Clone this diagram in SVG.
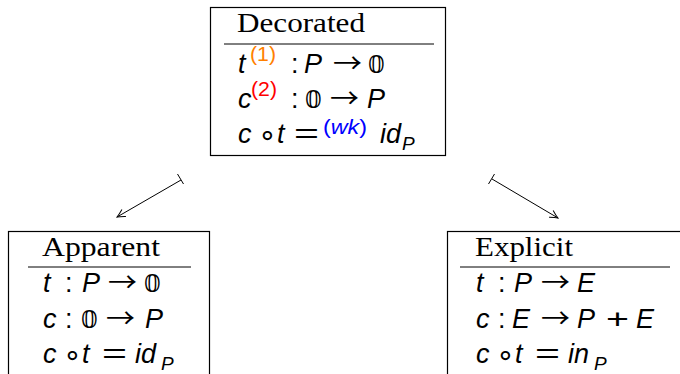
<svg xmlns="http://www.w3.org/2000/svg" width="680" height="374" viewBox="0 0 680 374">
<style>
.box{fill:#fff;stroke:#000;stroke-width:1.2}
.sep{stroke:#000;stroke-width:1}
.hd{font-family:"Liberation Serif","DejaVu Serif",serif;font-size:28px;fill:#000}
.m{font-family:"Liberation Sans","DejaVu Sans",sans-serif;font-size:27px;fill:#000}
.i{font-style:italic}
.sub{font-family:"Liberation Sans","DejaVu Sans",sans-serif;font-size:19px;font-style:italic;fill:#000}
.eq{font-family:"Liberation Sans","DejaVu Sans",sans-serif;font-size:27px;fill:#000}
.ar{font-family:"Noto Sans CJK SC","DejaVu Sans",sans-serif;font-size:27px;fill:#000}
.z{font-family:"DejaVu Serif",serif;font-size:24px;fill:#000}
.o{font-family:"DejaVu Sans",sans-serif;font-size:30px;font-style:normal;fill:#000}
.sup{font-family:"Liberation Sans",sans-serif;font-size:21px}
.conn{stroke:#000;stroke-width:1;fill:none}
</style>
<defs>
<marker id="ah" viewBox="0 0 10 10" refX="9" refY="5" markerWidth="10" markerHeight="10" markerUnits="userSpaceOnUse" orient="auto">
<path d="M1,1 Q6,4 9,5 Q6,6 1,9" fill="none" stroke="#000" stroke-width="1"/>
</marker>
</defs>
<g id="connectors">
<line class="conn" x1="181" y1="180" x2="117" y2="217" marker-end="url(#ah)"/>
<line class="conn" x1="177.5" y1="174" x2="183.5" y2="184"/>
<line class="conn" x1="492" y1="179" x2="558" y2="218" marker-end="url(#ah)"/>
<line class="conn" x1="488.5" y1="184" x2="494.5" y2="174"/>
</g>
<g id="decorated">
<rect class="box" x="210.5" y="7.5" width="235" height="148"/>
<line class="sep" x1="224" y1="44" x2="434" y2="44"/>
<text class="hd" x="237" y="32" textLength="128" lengthAdjust="spacingAndGlyphs">Decorated</text>
<text class="m i" x="238" y="73">t</text>
<text class="sup" x="250" y="61" fill="#ff8000" textLength="26" lengthAdjust="spacingAndGlyphs">(1)</text>
<text class="m" x="291" y="73">:</text>
<text class="m i" x="304" y="73">P</text>
<text class="ar" x="333" y="73" textLength="29" lengthAdjust="spacingAndGlyphs">→</text>
<text class="z" x="368" y="73">𝟘</text>
<text class="m i" x="238" y="108">c</text>
<text class="sup" x="251" y="96" fill="#ff0000" textLength="26" lengthAdjust="spacingAndGlyphs">(2)</text>
<text class="m" x="291" y="108">:</text>
<text class="z" x="305" y="108">𝟘</text>
<text class="ar" x="330" y="108" textLength="29" lengthAdjust="spacingAndGlyphs">→</text>
<text class="m i" x="367" y="108">P</text>
<text class="m i" x="238" y="143">c</text>
<text class="o" x="258" y="145">∘</text>
<text class="m i" x="277" y="143">t</text>
<text class="eq" x="294" y="143" textLength="25" lengthAdjust="spacingAndGlyphs">=</text>
<text class="sup" x="323" y="134" fill="#0000ff" textLength="44" lengthAdjust="spacingAndGlyphs">(<tspan class="i">wk</tspan>)</text>
<text class="m i" x="380" y="143">id</text>
<text class="sub" x="402" y="150">P</text>
</g>
<g id="apparent">
<rect class="box" x="8.5" y="231.5" width="201" height="150"/>
<line class="sep" x1="28" y1="267" x2="191" y2="267"/>
<text class="hd" x="42" y="256" textLength="118" lengthAdjust="spacingAndGlyphs">Apparent</text>
<text class="m i" x="43" y="292">t</text>
<text class="m" x="65" y="292">:</text>
<text class="m i" x="82" y="292">P</text>
<text class="ar" x="108" y="292" textLength="29" lengthAdjust="spacingAndGlyphs">→</text>
<text class="z" x="144" y="292">𝟘</text>
<text class="m i" x="43" y="328">c</text>
<text class="m" x="65" y="328">:</text>
<text class="z" x="81" y="328">𝟘</text>
<text class="ar" x="106" y="328" textLength="29" lengthAdjust="spacingAndGlyphs">→</text>
<text class="m i" x="145" y="328">P</text>
<text class="m i" x="43" y="363">c</text>
<text class="o" x="63" y="365">∘</text>
<text class="m i" x="82" y="363">t</text>
<text class="eq" x="102" y="363" textLength="25" lengthAdjust="spacingAndGlyphs">=</text>
<text class="m i" x="135" y="363">id</text>
<text class="sub" x="161" y="370">P</text>
</g>
<g id="explicit">
<rect class="box" x="447.5" y="231.5" width="240" height="150"/>
<line class="sep" x1="460" y1="267" x2="670" y2="267"/>
<text class="hd" x="475" y="256" textLength="98" lengthAdjust="spacingAndGlyphs">Explicit</text>
<text class="m i" x="476" y="292">t</text>
<text class="m" x="498" y="292">:</text>
<text class="m i" x="514" y="292">P</text>
<text class="ar" x="541" y="292" textLength="29" lengthAdjust="spacingAndGlyphs">→</text>
<text class="m i" x="577" y="292">E</text>
<text class="m i" x="476" y="328">c</text>
<text class="m" x="498" y="328">:</text>
<text class="m i" x="512" y="328">E</text>
<text class="ar" x="541" y="328" textLength="29" lengthAdjust="spacingAndGlyphs">→</text>
<text class="m i" x="577" y="328">P</text>
<text class="eq" x="606" y="328" textLength="23" lengthAdjust="spacingAndGlyphs">+</text>
<text class="m i" x="636" y="328">E</text>
<text class="m i" x="476" y="363">c</text>
<text class="o" x="496" y="365">∘</text>
<text class="m i" x="515" y="363">t</text>
<text class="eq" x="535" y="363" textLength="25" lengthAdjust="spacingAndGlyphs">=</text>
<text class="m i" x="568" y="363">in</text>
<text class="sub" x="594" y="370">P</text>
</g>
</svg>
